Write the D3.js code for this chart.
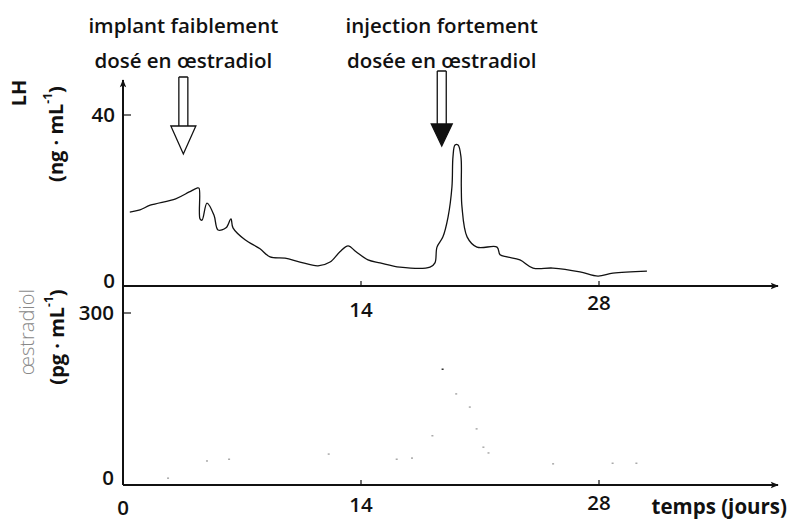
<!DOCTYPE html>
<html>
<head>
<meta charset="utf-8">
<script src="https://cdn.jsdelivr.net/npm/d3@7"></script>
<style>
  body { margin: 0; background: #fff; }
  svg text { font-family: "Open Sans", sans-serif; fill: #111; }
</style>
</head>
<body>
<svg width="790" height="524"></svg>
<script>
// LH curve (days, ng/mL)
const lhDays = [0.4, 1.0, 1.6, 3.1, 3.9, 4.35, 4.47, 4.53, 4.65, 4.94, 5.35, 5.59, 6.06, 6.35, 6.47,
  7.18, 8.06, 8.65, 9.53, 10.41, 11.47, 12.18, 12.76, 13.24, 13.71, 14.41, 15.12, 16.29, 18.06,
  18.35, 18.47, 18.82, 19.12, 19.35, 19.41, 19.53, 19.71, 19.88, 19.9, 19.94, 20.24, 20.82, 22.0,
  22.18, 22.59, 23.35, 24.12, 25.29, 26.88, 27.94, 28.82, 30.82];
const lhValues = [17.3, 17.8, 18.9, 20.4, 22.0, 22.9, 22.9, 15.7, 15.4, 19.4, 16.6, 13.1, 13.6, 15.7, 13.6,
  10.8, 8.7, 6.8, 6.5, 5.6, 4.7, 5.6, 8.0, 9.4, 8.0, 6.1, 5.4, 4.4, 4.4,
  5.4, 9.1, 11.5, 16.1, 23.2, 30.2, 33.0, 33.0, 30.2, 23.2, 18.5, 11.5, 9.1, 9.1,
  7.3, 6.8, 6.1, 4.2, 4.2, 3.3, 2.3, 3.0, 3.5];

// faint estradiol dots (days, pg/mL)
const e2Days = [2.65, 4.94, 6.24, 12.1, 16.1, 17.0, 18.2, 18.8, 19.6, 20.4, 20.8, 21.2, 21.5, 25.3, 28.8, 30.2];
const e2Values = [12, 42, 45, 54, 45, 47, 86, 202, 159, 136, 98, 66, 56, 37, 38, 38];

const xTicks = [0, 14, 28];
const lhTicks = [0, 40];
const e2Ticks = [0, 300];

const annotations = [
  { day: 3.55, lines: ["implant faiblement", "dosé en œstradiol"], filled: false },
  { day: 18.75, lines: ["injection fortement", "dosée en œstradiol"], filled: true }
];

const svg = d3.select("svg");

const x = d3.scaleLinear().domain([0, 28]).range([123, 599]);
const yLH = d3.scaleLinear().domain([0, 40]).range([286, 115]);
const yE2 = d3.scaleLinear().domain([0, 300]).range([485, 313]);
const axisEnd = 778;
const fs = 20.5;

// arrow heads
const defs = svg.append("defs");
defs.append("marker")
  .attr("id", "ah")
  .attr("viewBox", "0 0 10 10")
  .attr("refX", 9).attr("refY", 5)
  .attr("markerWidth", 10).attr("markerHeight", 8)
  .attr("markerUnits", "userSpaceOnUse")
  .attr("orient", "auto")
  .append("path").attr("d", "M0,1 L10,5 L0,9 L2,5 Z").attr("fill", "#111");

// vertical axis shared by both panels
svg.append("line")
  .attr("x1", x(0)).attr("x2", x(0))
  .attr("y1", yE2(0)).attr("y2", 80)
  .attr("stroke", "#111").attr("stroke-width", 2)
  .attr("marker-end", "url(#ah)");

// horizontal axes
[yLH(0), yE2(0)].forEach(y0 => {
  svg.append("line")
    .attr("x1", x(0)).attr("x2", axisEnd)
    .attr("y1", y0).attr("y2", y0)
    .attr("stroke", "#111").attr("stroke-width", 2)
    .attr("marker-end", "url(#ah)");
  svg.selectAll(null).data(xTicks.filter(d => d > 0)).enter()
    .append("line")
    .attr("x1", d => x(d)).attr("x2", d => x(d))
    .attr("y1", y0).attr("y2", y0 - 5)
    .attr("stroke", "#111").attr("stroke-width", 1.2);
});

// y ticks
const yTick = (scale, ticks) => {
  svg.selectAll(null).data(ticks.filter(d => d > 0)).enter()
    .append("line")
    .attr("x1", x(0)).attr("x2", x(0) + 8)
    .attr("y1", d => scale(d)).attr("y2", d => scale(d))
    .attr("stroke", "#111").attr("stroke-width", 1.2);
};
yTick(yLH, lhTicks);
yTick(yE2, e2Ticks);

// tick labels
svg.selectAll(null).data(lhTicks).enter().append("text")
  .attr("x", 115).attr("y", d => d === 0 ? 288 : yLH(d) + 7)
  .attr("text-anchor", "end").attr("font-size", fs).attr("font-weight", 600)
  .text(d => d);
svg.selectAll(null).data(e2Ticks).enter().append("text")
  .attr("x", 114).attr("y", d => d === 0 ? yE2(d) : yE2(d) + 7)
  .attr("text-anchor", "end").attr("font-size", fs).attr("font-weight", 600)
  .text(d => d);

// x labels, upper and lower
svg.selectAll(null).data(xTicks.filter(d => d > 0)).enter().append("text")
  .attr("x", d => x(d)).attr("y", d => d === 14 ? 317 : 310)
  .attr("text-anchor", "middle").attr("font-size", fs).attr("font-weight", 600)
  .text(d => d);
svg.selectAll(null).data(xTicks).enter().append("text")
  .attr("x", d => x(d)).attr("y", d => d === 0 ? 515 : (d === 14 ? 512 : 510))
  .attr("text-anchor", "middle").attr("font-size", fs).attr("font-weight", 600)
  .text(d => d);

svg.append("text")
  .attr("x", 787).attr("y", 514)
  .attr("text-anchor", "end").attr("font-size", fs).attr("font-weight", 700)
  .text("temps (jours)");

// rotated axis titles
const vtitle = (cx, cy, parts, weight, fill) => {
  const t = svg.append("text")
    .attr("transform", `translate(${cx},${cy}) rotate(-90)`)
    .attr("text-anchor", "middle")
    .attr("dominant-baseline", "central")
    .attr("font-size", 20).attr("font-weight", weight)
    .style("fill", fill);
  parts.forEach(p => {
    t.append("tspan").text(p.t)
      .attr("font-size", p.sup ? 12 : 20)
      .attr("dy", p.sup ? -8 : (p.after ? 8 : 0));
  });
};
vtitle(18, 93, [{ t: "LH" }], 700, "#111");
vtitle(55, 134, [{ t: "(ng · mL" }, { t: "-1", sup: true }, { t: ")", after: true }], 700, "#111");
vtitle(26, 332, [{ t: "œstradiol" }], 300, "#888");
vtitle(56, 337, [{ t: "(pg · mL" }, { t: "-1", sup: true }, { t: ")", after: true }], 700, "#111");

// LH curve
const lhData = lhDays.map((d, i) => ({ day: d, v: lhValues[i] }));
svg.append("path")
  .datum(lhData)
  .attr("fill", "none").attr("stroke", "#111").attr("stroke-width", 1.3)
  .attr("stroke-linejoin", "round")
  .attr("d", d3.line().x(d => x(d.day)).y(d => yLH(d.v)).curve(d3.curveCatmullRom.alpha(0.5)));

// faint estradiol specks
const e2Data = e2Days.map((d, i) => ({ day: d, v: e2Values[i] }));
svg.selectAll(null).data(e2Data).enter().append("rect")
  .attr("x", d => x(d.day) - 1).attr("y", d => yE2(d.v) - 0.7)
  .attr("width", 2).attr("height", 1.5)
  .attr("fill", (d, i) => i === 7 ? "#333" : "#aaa");

// annotations
annotations.forEach(a => {
  const cx = x(a.day);
  a.lines.forEach((l, i) => {
    svg.append("text")
      .attr("x", cx).attr("y", 33 + i * 35)
      .attr("text-anchor", "middle").attr("font-size", fs).attr("font-weight", 600)
      .text(l);
  });
  const top = a.filled ? 71 : 77;
  const neck = a.filled ? 124 : 126;
  const tip = a.filled ? 146 : 154;
  const hw = 4.5, hh = a.filled ? 10.5 : 12.5;
  svg.append("path")
    .attr("d", `M${cx - hw},${top} L${cx - hw},${neck} M${cx + hw},${top} L${cx + hw},${neck} M${cx - hw},${top} L${cx + hw},${top}`)
    .attr("stroke", "#111").attr("stroke-width", 1.3).attr("fill", "none");
  svg.append("path")
    .attr("d", `M${cx - hh},${neck} L${cx + hh},${neck} L${cx},${tip} Z`)
    .attr("stroke", "#111").attr("stroke-width", 1.3)
    .attr("stroke-linejoin", "miter")
    .attr("fill", a.filled ? "#111" : "#fff");
});
</script>
</body>
</html>
